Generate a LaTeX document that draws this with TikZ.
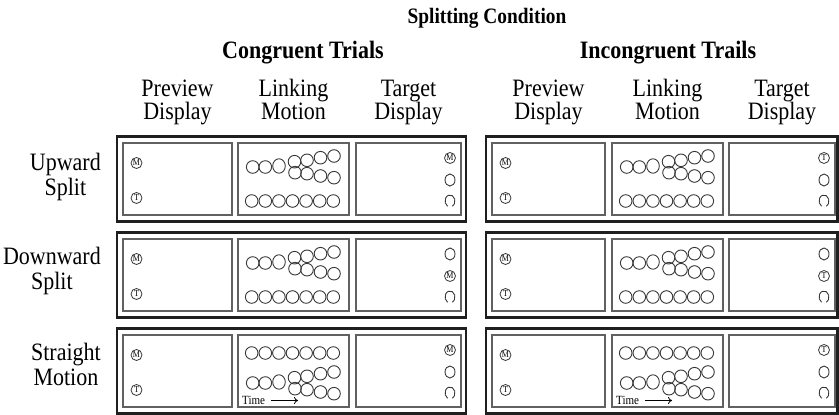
\documentclass[tikz,border=0pt]{standalone}
\usepackage{fontspec}
\setmainfont[FakeStretch=0.88]{Liberation Serif}
\usetikzlibrary{arrows.meta}
\tikzset{
 outerbox/.style={draw=black!88, line width=2.2pt},
 innerbox/.style={draw=black!62, line width=1.4pt},
 disk/.style={draw=black!78, line width=0.9pt},
 lbl/.style={font=\fontsize{25}{23}\selectfont, anchor=base, inner sep=0pt, text height=16pt, text depth=4pt},
 rowlbl/.style={font=\fontsize{25}{25}\selectfont, align=center, anchor=east, inner sep=0pt},
 grp/.style={font=\bfseries\fontsize{25}{25}\selectfont, inner sep=0pt},
 letter/.style={circle, draw=black!78, line width=0.8pt, minimum size=11pt, inner sep=0pt, font=\fontsize{9}{9}\selectfont},
 timelbl/.style={font=\fontsize{12.5}{12.5}\selectfont, inner sep=0pt, anchor=base west},
}
\newcommand\SplitPat[2]{%
  \foreach \dx/\dy in {14.7/0, 27.3/0, 56.5/-5.3, 57/5.7, 69/-6.7, 82.5/-9.3, 96/-11, 69/6.7, 82.5/9, 96/10.7}
    {\draw[disk] ({#1+\dx}, {#2+\dy}) circle[radius=6.3];}
  \draw[disk] ({#1+41}, {#2-1}) ellipse[x radius=6.3, y radius=7.2];
}
\newcommand\StraightRow[2]{%
  \foreach \i in {0,...,6}
    {\draw[disk] ({#1+13.7+13.6*\i}, {#2}) circle[radius=6.3];}
}
\newcommand\OpenDisk[2]{%
  \draw[disk] ({#1},{#2}) ++(118:5 and 6) arc[start angle=118, end angle=422, x radius=5, y radius=6];
}
\begin{document}
\begin{tikzpicture}[x=1pt,y=-1pt]
\useasboundingbox (0,0) rectangle (839,415);
% headings
\node[grp, font=\bfseries\fontsize{22}{22}\selectfont] (title) at (487,18) {Splitting Condition};
\node[grp] (cong) at (303,53) {Congruent Trials};
\node[grp] (incong) at (668,53) {Incongruent Trails};
\node[lbl] (h1a) at (177.5,96) {Preview};
\node[lbl] (h1b) at (177.5,119.5) {Display};
\node[lbl] (h2a) at (293.5,96) {Linking};
\node[lbl] (h2b) at (293.5,119.5) {Motion};
\node[lbl] (h3a) at (408.5,96) {Target};
\node[lbl] (h3b) at (408.5,119.5) {Display};
\node[lbl] (h4a) at (548.5,96) {Preview};
\node[lbl] (h4b) at (548.5,119.5) {Display};
\node[lbl] (h5a) at (667.5,96) {Linking};
\node[lbl] (h5b) at (667.5,119.5) {Motion};
\node[lbl] (h6a) at (782,96) {Target};
\node[lbl] (h6b) at (782,119.5) {Display};
% row labels
\node[rowlbl] (r1) at (101,177) {Upward\\Split};
\node[rowlbl] (r2) at (101,271) {Downward\\Split};
\node[rowlbl] (r3) at (101,364) {Straight\\Motion};
% boxes and previews
\foreach \tt in {143,239,335}{
  \foreach \aa/\bb in {117/466, 486/837.5}
    {\draw[outerbox] (\aa,\tt-6.5) rectangle (\bb,\tt+78.5);}
  \foreach \aa/\bb in {123/232,238/349,356/461,492/605,612/723,729/835}
    {\draw[innerbox] (\aa,\tt) rectangle (\bb,\tt+72);}
  \foreach \aa in {123,492}{
    \node[letter] (pm-\tt-\aa) at (\aa+13.5,\tt+20) {M};
    \node[letter] (pt-\tt-\aa) at (\aa+13.5,\tt+55) {T};
  }
  \foreach \bb in {461,835}
    {\OpenDisk{\bb-11}{\tt+58}}
}
% target displays
\node[letter] (g1l) at (450,158) {M};
\draw[disk] (450,180) ellipse[x radius=5, y radius=6];
\node[letter] (g1r) at (824,158) {T};
\draw[disk] (824,180) ellipse[x radius=5, y radius=6];
\draw[disk] (450,254) ellipse[x radius=5, y radius=6];
\node[letter] (g2l) at (450,276) {M};
\draw[disk] (824,254) ellipse[x radius=5, y radius=6];
\node[letter] (g2r) at (824,276) {T};
\node[letter] (g3l) at (450,350) {M};
\draw[disk] (450,372) ellipse[x radius=5, y radius=6];
\node[letter] (g3r) at (824,350) {T};
\draw[disk] (824,372) ellipse[x radius=5, y radius=6];
% linking motion
\foreach \LL in {238,612}{
  \foreach \tt in {143,239}{
    \SplitPat{\LL}{\tt+24}
    \StraightRow{\LL}{\tt+58}
  }
  \StraightRow{\LL}{335+18}
  \SplitPat{\LL}{335+48}
  \node[timelbl] (time-\LL) at (\LL+4,404) {Time};
  \coordinate (ta-\LL) at (\LL+33,400.5);
  \coordinate (tb-\LL) at (\LL+60,400.5);
  \draw[line width=0.8pt,-{To[length=4pt,width=7pt]}] (ta-\LL) -- (tb-\LL);
}
\end{tikzpicture}
\end{document}
